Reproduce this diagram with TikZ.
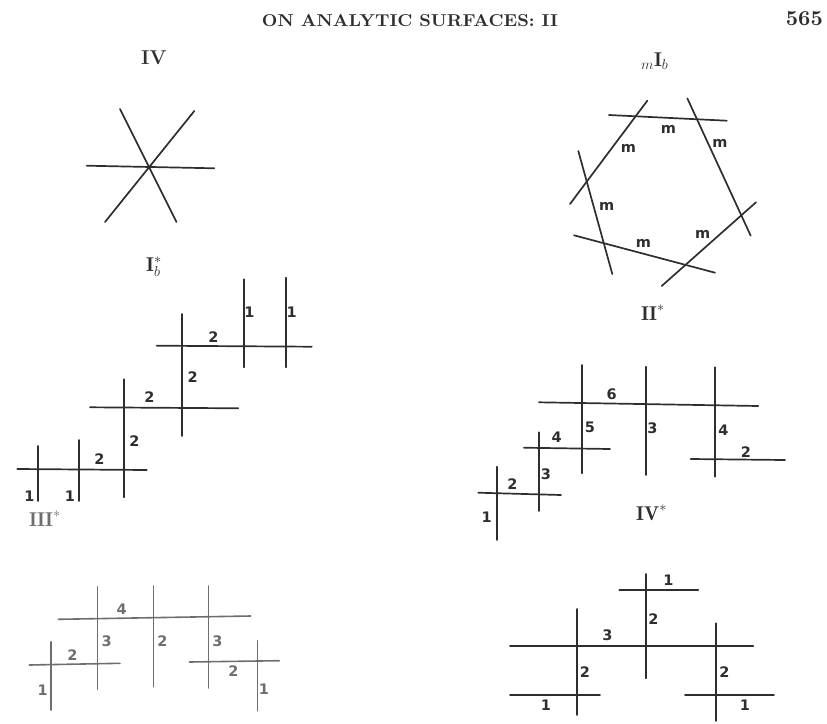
\documentclass[tikz,border=0pt]{standalone}
\usepackage{fontspec}
\newfontfamily\labfont{DejaVu Sans}
\definecolor{ink}{HTML}{2E2E2E}
\definecolor{pale}{HTML}{6E6E6E}
\begin{document}
\begin{tikzpicture}[x=1pt,y=-1pt,
  ln/.style={line width=1.7pt, draw=ink, line cap=round},
  pl/.style={line width=1.6pt, draw=pale, line cap=round},
  lb/.style={font=\labfont\bfseries\fontsize{14.5}{14.5}\selectfont, text=ink, inner sep=0pt},
  plb/.style={lb, text=pale},
  ttl/.style={font=\bfseries\fontsize{20}{20}\selectfont, text=ink, inner sep=0pt, anchor=base west}]
\useasboundingbox (0,0) rectangle (827,723);
% header
\node[anchor=base west, inner sep=0pt, text=ink] (hdr) at (261.7,26.5) {\resizebox{296pt}{12pt}{\bfseries ON ANALYTIC SURFACES: II}};
\node[anchor=base east, inner sep=0pt, text=ink] (pg) at (823,25) {\resizebox{!}{14pt}{\bfseries 565}};
% titles
\node[ttl] (tIV) at (141,64.5) {IV};
\node[ttl] (tmIb) at (641,66) {${}_m\mathbf{I}_b$};
\node[ttl] (tIbs) at (146,271) {$\mathbf{I}^*_b$};
\node[ttl] (tIIs) at (641,320) {$\mathbf{II}^*$};
\node[ttl, text=pale] (tIIIs) at (29,526) {$\mathbf{III}^*$};
\node[ttl] (tIVs) at (636,520) {$\mathbf{IV}^*$};
% IV
\draw[ln] (86.7,165.7) -- (214.3,168.3);
\draw[ln] (120,109) -- (176.5,222);
\draw[ln] (194.3,111) -- (105,222);
% mIb
\draw[ln] (609,115) -- (726.7,120.7);
\draw[ln] (647.3,100.7) -- (570,204);
\draw[ln] (578.3,151) -- (612.3,274);
\draw[ln] (574,235.3) -- (715,272.7);
\draw[ln] (661.7,286) -- (756,202.3);
\draw[ln] (687.3,98.3) -- (750.7,235.7);
\node[lb] (m1) at (668.3,129.3) {m};
\node[lb] (m2) at (628.3,148.3) {m};
\node[lb] (m3) at (720,143.3) {m};
\node[lb] (m4) at (606.7,206) {m};
\node[lb] (m5) at (643.3,243.3) {m};
\node[lb] (m6) at (702.7,234) {m};
% I*_b
\draw[ln] (156.7,345.7) -- (311.7,346.7);
\draw[ln] (90,407.3) -- (238.3,408.3);
\draw[ln] (17.3,469) -- (146.7,470);
\draw[ln] (181.7,314) -- (181.7,436);
\draw[ln] (244,279.3) -- (244,367.3);
\draw[ln] (285.7,277.7) -- (285.7,367.3);
\draw[ln] (124,379.3) -- (124,497.3);
\draw[ln] (79,440) -- (79,501);
\draw[ln] (37.7,446) -- (37.7,501);
\node[lb] (a1) at (213.3,336.7) {2};
\node[lb] (a2) at (249.3,312.7) {1};
\node[lb] (a3) at (291.7,312.7) {1};
\node[lb] (a4) at (192.7,376.7) {2};
\node[lb] (a5) at (149.3,397.3) {2};
\node[lb] (a6) at (134.3,441) {2};
\node[lb] (a7) at (99.3,459) {2};
\node[lb] (a8) at (29.3,496.7) {1};
\node[lb] (a9) at (70,496.7) {1};
% II*
\draw[ln] (539,402.3) -- (758.3,406);
\draw[ln] (582.3,365) -- (582.3,473.3);
\draw[ln] (645.7,366.7) -- (645.7,475);
\draw[ln] (715,367.3) -- (715,476.7);
\draw[ln] (524,447.7) -- (610,449);
\draw[ln] (690.7,459) -- (785,460);
\draw[ln] (539,432.3) -- (539,511);
\draw[ln] (478.3,492.7) -- (561,495);
\draw[ln] (496.7,466.7) -- (496.7,540);
\node[lb] (b1) at (611.7,394) {6};
\node[lb] (b2) at (590,427.3) {5};
\node[lb] (b3) at (652.3,428.3) {3};
\node[lb] (b4) at (723.3,430) {4};
\node[lb] (b5) at (556.7,437.7) {4};
\node[lb] (b6) at (746,451.7) {2};
\node[lb] (b7) at (546,474) {3};
\node[lb] (b8) at (512.3,484) {2};
\node[lb] (b9) at (486.7,517.3) {1};
% III*
\draw[pl] (58.3,619.3) -- (250.7,616);
\draw[pl] (97.3,586.7) -- (97.3,689.3);
\draw[pl] (153.3,586) -- (153.3,686.7);
\draw[pl] (208.3,586) -- (208.3,688);
\draw[pl] (29.3,665) -- (120,663.3);
\draw[pl] (50.7,641.7) -- (50.7,710);
\draw[pl] (189.3,662) -- (279.3,660.7);
\draw[pl] (257.3,640.7) -- (257.3,710.7);
\node[plb] (c1) at (121.7,609.3) {4};
\node[plb] (c2) at (106.7,641.7) {3};
\node[plb] (c3) at (162.3,641) {2};
\node[plb] (c4) at (217.3,641) {3};
\node[plb] (c5) at (72.3,655) {2};
\node[plb] (c6) at (42.7,690.7) {1};
\node[plb] (c7) at (233.3,671) {2};
\node[plb] (c8) at (264,689.3) {1};
% IV*
\draw[ln] (510,645.7) -- (753.3,645.7);
\draw[ln] (576.7,609) -- (576.7,715);
\draw[ln] (645.7,574) -- (645.7,678.3);
\draw[ln] (716.3,623.3) -- (716.3,721);
\draw[ln] (619.3,590) -- (698.3,590);
\draw[ln] (510,695) -- (600,695);
\draw[ln] (685,695) -- (774,695);
\node[lb] (d1) at (668.3,580) {1};
\node[lb] (d2) at (653.3,619) {2};
\node[lb] (d3) at (607.3,635) {3};
\node[lb] (d4) at (585,671.7) {2};
\node[lb] (d5) at (724.3,671.7) {2};
\node[lb] (d6) at (546,705) {1};
\node[lb] (d7) at (745,705) {1};
\end{tikzpicture}
\end{document}
